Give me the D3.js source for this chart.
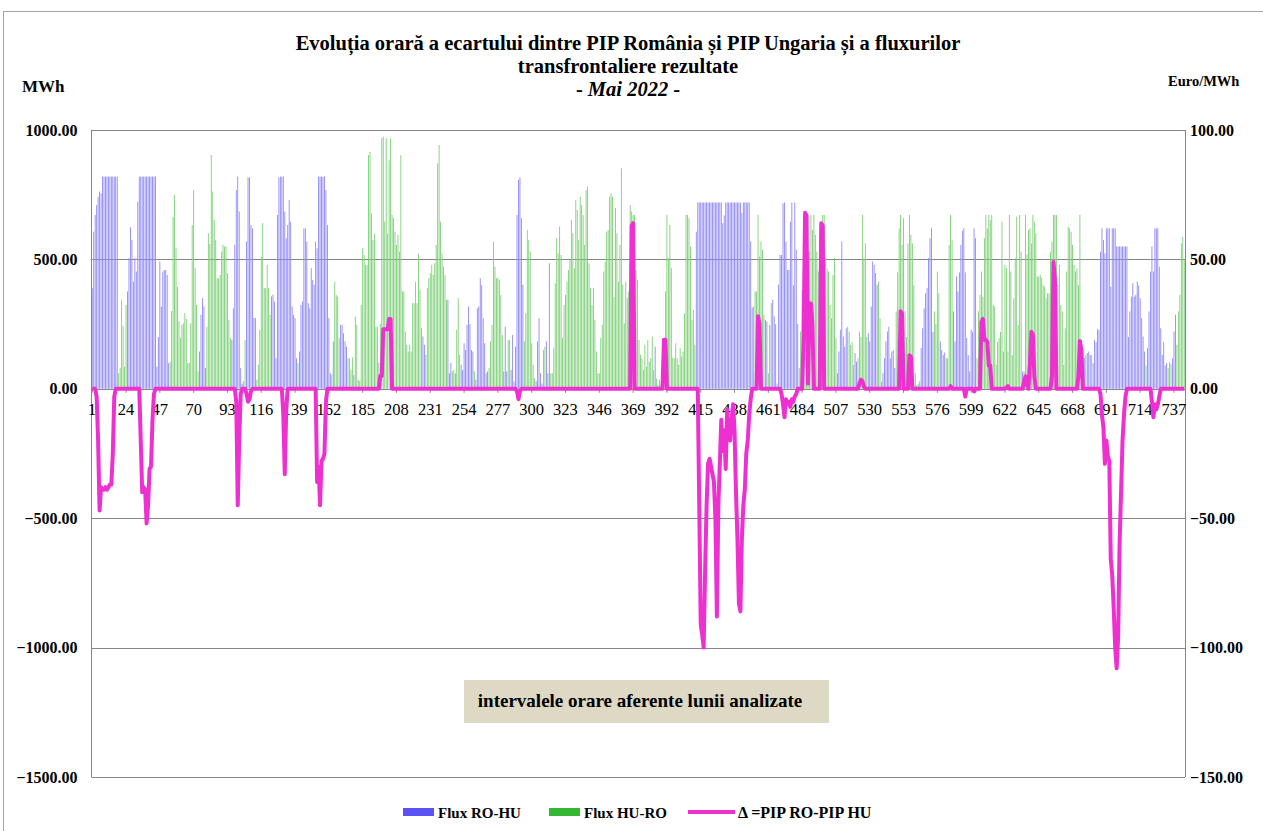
<!DOCTYPE html>
<html>
<head>
<meta charset="utf-8">
<script src="https://cdn.jsdelivr.net/npm/d3@7"></script>
<style>
  body { margin: 0; background: #fff; }
  svg text { font-family: "Liberation Serif", "Times New Roman", serif; }
</style>
</head>
<body>
<div id="chart"></div>
<script>
// hourly values, one line per day (24 h)
const fluxRoHu = [
  389,607,672,710,742,762,755,820,820,820,820,820,820,820,820,820,820,820,0,0,0,0,0,0,
  376,505,624,575,414,505,453,723,820,820,820,820,820,820,820,820,820,820,820,820,86,200,492,318,
  453,459,459,440,99,0,0,0,0,0,0,0,0,0,0,0,0,0,0,0,0,0,0,0,
  0,144,286,350,318,80,0,0,0,0,0,0,0,0,0,0,0,0,0,0,0,0,0,190,
  311,556,768,820,685,80,20,0,0,569,817,817,633,620,273,273,0,0,0,0,0,0,0,0,
  0,0,357,364,337,118,672,817,820,820,820,685,582,633,730,646,318,286,273,118,0,144,324,337,
  620,620,569,331,311,466,421,402,569,543,820,820,820,820,820,768,633,273,60,0,183,0,0,0,
  0,247,247,215,183,163,0,0,0,0,54,0,0,0,0,0,0,0,0,0,0,0,0,0,
  0,0,0,0,0,0,0,0,0,0,0,0,0,0,0,0,0,0,0,0,0,0,0,0,
  0,0,0,0,0,0,0,0,0,202,170,0,0,0,0,0,0,0,0,0,0,0,0,0,
  0,0,344,60,100,0,0,60,0,0,0,93,73,176,150,247,318,250,150,144,0,35,311,318,
  427,400,273,176,60,67,0,0,0,0,0,0,0,0,0,0,67,240,67,0,0,73,208,28,
  163,672,807,817,659,402,0,0,0,0,0,0,0,0,30,183,273,60,20,0,0,183,60,485,
  0,0,0,0,0,0,0,0,0,0,0,0,0,0,0,0,0,0,0,0,0,0,0,0,
  0,0,0,0,0,0,0,0,0,0,0,0,0,0,0,0,0,0,0,0,0,0,0,0,
  0,0,0,0,0,0,0,0,0,0,0,0,0,0,0,0,0,0,0,0,0,0,0,163,
  0,0,0,0,0,0,0,0,0,0,0,0,0,0,0,0,0,0,0,0,0,0,0,0,
  0,0,0,607,720,720,720,720,720,720,720,720,720,720,720,720,720,720,720,720,720,640,670,720,
  720,720,720,720,720,720,720,720,720,720,680,720,720,720,720,720,569,314,0,0,0,0,0,0,
  0,0,266,260,0,247,0,344,280,250,0,402,517,517,717,720,569,459,459,646,720,400,720,537,
  250,0,0,0,0,0,0,0,0,0,0,0,0,0,0,0,0,0,0,0,0,0,0,0,
  0,0,0,60,144,228,569,202,163,234,0,0,0,0,0,138,105,0,0,0,0,0,0,0,
  215,183,318,492,479,447,402,0,0,0,60,118,183,221,240,118,144,150,80,0,0,0,0,0,
  0,0,0,0,0,0,0,0,0,0,0,0,157,234,311,369,389,505,582,620,220,0,0,0,
  0,183,150,131,140,0,0,0,0,0,299,183,434,376,450,556,610,620,450,196,130,67,228,220,
  620,582,0,0,0,0,0,0,0,0,0,0,0,0,0,0,0,0,0,0,0,0,0,0,
  0,0,0,0,0,0,0,0,0,67,0,0,0,0,0,0,0,0,0,0,0,0,0,0,
  0,0,0,0,0,0,0,0,0,0,0,0,0,0,0,0,0,0,0,0,0,0,0,0,
  0,0,0,120,0,138,144,130,0,99,189,180,230,228,530,620,575,523,620,620,620,395,620,620,
  620,550,550,550,550,550,550,550,550,200,299,356,408,356,363,414,400,350,273,202,144,0,157,299,
  453,550,453,620,620,620,472,234,131,180,90,99,0,0,0,118,221,286,0,0,0,0,0,0
];

const fluxHuRo = [
  0,0,0,0,0,0,0,0,0,0,0,0,0,0,0,0,0,0,60,80,344,243,86,324,
  0,0,0,0,0,0,0,0,0,0,0,0,0,0,0,0,0,0,0,0,0,0,0,0,
  0,0,0,0,0,105,300,665,749,543,395,260,196,247,253,292,270,100,100,253,633,768,466,324,
  67,0,0,0,0,0,240,601,560,903,762,652,575,427,427,440,530,556,550,550,447,266,196,0,
  0,0,0,0,0,0,0,30,189,0,0,0,0,0,0,0,35,93,228,511,640,389,389,479,
  389,286,0,0,0,0,0,0,0,0,0,0,0,0,0,0,0,0,0,0,99,0,0,0,
  0,0,0,0,0,0,0,0,0,0,0,0,0,0,0,0,0,0,0,54,0,414,363,356,
  196,0,0,0,0,0,118,118,73,122,0,279,247,35,30,324,543,517,479,479,903,916,678,575,
  600,240,240,100,250,968,974,646,968,600,883,968,672,659,607,556,595,530,903,376,376,221,170,144,
  170,144,331,331,414,331,523,382,234,0,0,131,389,427,447,479,440,485,556,871,942,646,523,472,
  440,344,0,0,0,67,73,0,228,350,131,0,0,0,0,0,0,0,0,0,67,0,0,0,
  0,0,0,0,0,0,80,183,247,569,472,427,430,421,363,208,0,0,0,189,189,0,0,0,
  0,0,0,0,0,0,183,292,614,575,530,176,93,41,0,0,0,0,0,150,163,0,0,0,
  60,60,157,408,582,523,627,517,196,324,363,414,459,498,652,601,466,730,691,575,742,710,672,556,
  768,781,485,389,324,389,266,144,60,60,196,247,453,492,607,614,742,755,742,356,698,601,414,556,
  852,402,253,414,350,376,710,685,672,672,459,421,189,131,118,73,170,86,189,105,118,202,73,0,
  40,15,35,20,40,180,376,672,505,633,466,120,118,176,118,93,157,125,144,292,672,672,659,550,
  266,305,170,0,0,0,0,0,0,0,0,0,0,0,0,0,0,0,0,0,0,0,0,0,
  0,0,0,0,0,0,0,0,0,0,0,0,0,0,0,0,0,0,318,376,376,672,511,569,
  537,286,0,0,60,0,331,0,0,0,20,0,0,0,0,0,0,0,0,0,0,0,0,0,
  0,80,221,382,440,562,678,505,530,672,614,672,595,530,453,363,447,672,672,505,466,453,324,273,
  440,505,196,0,0,0,0,0,0,0,240,221,170,180,93,0,0,118,221,200,672,505,562,200,
  0,0,0,0,0,0,0,414,273,28,0,0,0,0,0,0,0,0,0,299,450,620,672,556,
  659,300,200,562,672,595,562,400,60,15,20,30,0,0,0,0,0,0,0,0,0,299,250,453,
  369,0,0,0,0,118,118,556,672,575,0,0,0,0,0,0,0,0,0,0,0,0,0,0,
  0,0,118,299,363,453,356,582,672,620,672,652,672,324,318,93,180,196,220,646,144,479,466,144,
  672,453,130,350,505,665,246,672,530,0,67,672,520,614,620,562,672,646,601,434,434,440,430,402,
  395,350,369,369,530,569,672,672,672,402,479,324,299,93,234,453,627,620,607,556,479,453,466,400,
  672,93,144,0,130,0,0,0,131,0,0,0,0,0,0,0,0,0,0,0,0,0,0,0,
  0,0,0,0,0,0,0,0,0,0,0,0,0,0,0,0,0,0,0,0,0,90,0,0,
  0,0,0,0,0,0,0,0,0,0,0,0,80,103,95,0,0,0,170,299,363,562,588,498
];

// Δ = PIP RO - PIP HU, Euro/MWh
const deltaPip = [
  0,0,0,-3,-20,-47,-38,-39,-39,-38,-39,-38,-37,-37,-25,-3,0,0,0,0,0,0,0,0,
  0,0,0,0,0,0,0,0,0,-20,-40,-38,-39,-52,-45,-31,-30,-12,-2,0,0,0,0,0,
  0,0,0,0,0,0,0,0,0,0,0,0,0,0,0,0,0,0,0,0,0,0,0,0,
  0,0,0,0,0,0,0,0,0,0,0,0,0,0,0,0,0,0,0,0,0,0,0,0,
  0,0,-5,-45,-20,-2,0,0,0,-2,-5,-4,-1,0,0,0,0,0,0,0,0,0,0,0,
  0,0,0,0,0,0,0,0,0,0,-10,-33,-8,0,0,0,0,0,0,0,0,0,0,0,
  0,0,0,0,0,0,0,0,0,-36,-30,-45,-28,-27,-25,-5,0,0,0,0,0,0,0,0,
  0,0,0,0,0,0,0,0,0,0,0,0,0,0,0,0,0,0,0,0,0,0,0,0,
  0,0,0,0,5,5,23,23,23,23,27,27,0,0,0,0,0,0,0,0,0,0,0,0,
  0,0,0,0,0,0,0,0,0,0,0,0,0,0,0,0,0,0,0,0,0,0,0,0,
  0,0,0,0,0,0,0,0,0,0,0,0,0,0,0,0,0,0,0,0,0,0,0,0,
  0,0,0,0,0,0,0,0,0,0,0,0,0,0,0,0,0,0,0,0,0,0,0,0,
  0,-1,-4,-1,0,0,0,0,0,0,0,0,0,0,0,0,0,0,0,0,0,0,0,0,
  0,0,0,0,0,0,0,0,0,0,0,0,0,0,0,0,0,0,0,0,0,0,0,0,
  0,0,0,0,0,0,0,0,0,0,0,0,0,0,0,0,0,0,0,0,0,0,0,0,
  0,0,0,0,0,0,0,63,64,0,0,0,0,0,0,0,0,0,0,0,0,0,0,0,
  0,0,0,0,0,19,19,0,0,0,0,0,0,0,0,0,0,0,0,0,0,0,0,0,
  0,0,0,0,0,-45,-91,-95,-100,-70,-45,-29,-27,-30,-33,-36,-50,-88,-45,-29,-12,-24,-16,-31,
  -8,-18,-20,-12,-6,-16,-40,-58,-83,-86,-58,-45,-39,-25,-20,-10,-4,0,0,0,0,28,25,0,
  0,0,0,0,0,0,0,0,0,0,0,0,0,-2,-6,-11,-4,-6,-5,-7,-4,-5,-3,-2,
  0,0,0,0,20,68,67,2,33,33,25,0,0,0,0,0,64,63,0,0,0,0,0,0,
  0,0,0,0,0,0,0,0,0,0,0,0,0,0,0,0,0,0,2,3.5,3,1,0,0,
  0,0,0,0,0,0,0,0,0,0,0,0,0,0,0,0,0,0,0,0,0,0,30,29,
  0,0,0,0,13,12.5,0,0,0,0,0,0,0,0,0,0,0,0,0,0,0,0,0,0,
  0,0,0,0,0,0,0,0,1,0,0,0,0,0,0,0,0,0,-3,0,0,0,0,0,
  -1,0,0,0,0,26,27,19,19,18,9,9,0,0,0,0,0,0,0,0,0,0,0.5,1,
  0,0,0,0,0,0,0,0,0,0,3,4.8,2,0,10,22,21,5,0,0,0,0,0,0,
  0,0,0,0,0,5,49,42,0,0,0,0,0,0,0,0,0,0,0,0,0,0,0,5,
  18.5,15,0,0,0,0,0,0,0,0,0,0,0,0,-2,-10,-15,-29,-20,-26,-28,-66,-72,-85,
  -100,-108,-96,-60,-40,-20,-10,-3,0,0,0,0,0,0,0,0,0,0,0,0,0,0,0,0,
  0,-5,-11,-6,-8,-6,-3,0,0,0,0,0,0,0,0,0,0,0,0,0,0,0,0,0
];

const hours = d3.range(1, fluxRoHu.length + 1);
const xTickLabels = [1,24,47,70,93,116,139,162,185,208,231,254,277,300,323,346,369,392,415,438,461,484,507,530,553,576,599,622,645,668,691,714,737];
const yLeftTicks = [1000, 500, 0, -500, -1000, -1500];
const yRightTicks = [100, 50, 0, -50, -100, -150];

const width = 1263;
const height = 831;
const plot = { left: 91.5, right: 1185, top: 130, bottom: 777 };

const colBlue = "#5b52f3";
const colGreen = "#34b834";
const barBlue = "#8e87f6";
const barGreen = "#7ccf76";
const colLine = "#ee30d0";

const svg = d3.select("#chart")
  .append("svg")
  .attr("width", width)
  .attr("height", height);

// outer frame
svg.append("rect")
  .attr("x", 3.5).attr("y", 11.5)
  .attr("width", 1300).attr("height", 900)
  .attr("fill", "none")
  .attr("stroke", "#a6a6a6");

const x = d3.scaleBand()
  .domain(hours)
  .range([plot.left, plot.right]);
const bw = x.bandwidth();

const yL = d3.scaleLinear().domain([-1500, 1000]).range([plot.bottom, plot.top]);
const yR = d3.scaleLinear().domain([-150, 100]).range([plot.bottom, plot.top]);

// gridlines
svg.append("g")
  .selectAll("line")
  .data(yLeftTicks)
  .enter()
  .append("line")
  .attr("x1", plot.left).attr("x2", plot.right)
  .attr("y1", d => Math.round(yL(d)) + 0.5)
  .attr("y2", d => Math.round(yL(d)) + 0.5)
  .attr("stroke", "#868686")
  .attr("stroke-width", 1);

// side axis lines
svg.append("line")
  .attr("x1", plot.left).attr("x2", plot.left)
  .attr("y1", plot.top).attr("y2", plot.bottom)
  .attr("stroke", "#868686");
svg.append("line")
  .attr("x1", plot.right + 0.5).attr("x2", plot.right + 0.5)
  .attr("y1", plot.top).attr("y2", plot.bottom)
  .attr("stroke", "#868686");

// bars
const barW = bw * 0.6;
svg.append("g")
  .attr("fill", barBlue)
  .selectAll("rect")
  .data(hours.filter((h, i) => fluxRoHu[i] > 0))
  .enter()
  .append("rect")
  .attr("x", h => x(h) + (bw - barW) / 2)
  .attr("width", barW)
  .attr("y", h => yL(fluxRoHu[h - 1]))
  .attr("height", h => yL(0) - yL(fluxRoHu[h - 1]));

svg.append("g")
  .attr("fill", barGreen)
  .selectAll("rect")
  .data(hours.filter((h, i) => fluxHuRo[i] > 0))
  .enter()
  .append("rect")
  .attr("x", h => x(h) + (bw - barW) / 2)
  .attr("width", barW)
  .attr("y", h => yL(fluxHuRo[h - 1]))
  .attr("height", h => yL(0) - yL(fluxHuRo[h - 1]));

// axes
const fmt = d3.format(".2f");
const axL = svg.append("g")
  .attr("transform", `translate(${plot.left},0)`)
  .call(d3.axisLeft(yL).tickValues(yLeftTicks).tickFormat(fmt).tickSize(0).tickPadding(14));
const axR = svg.append("g")
  .attr("transform", `translate(${plot.right},0)`)
  .call(d3.axisRight(yR).tickValues(yRightTicks).tickFormat(fmt).tickSize(0).tickPadding(5));
[axL, axR].forEach(a => {
  a.select(".domain").remove();
  a.selectAll("text")
    .attr("font-family", "Liberation Serif, Times New Roman, serif")
    .attr("font-size", 16)
    .attr("font-weight", "bold")
    .attr("fill", "#000");
});

const axX = svg.append("g")
  .attr("transform", `translate(0,${yL(0)})`)
  .call(d3.axisBottom(x).tickValues(xTickLabels).tickSize(4).tickPadding(10));
axX.select(".domain").remove();
axX.selectAll("line").attr("stroke", "#868686");
axX.selectAll("text")
  .attr("font-family", "Liberation Serif, Times New Roman, serif")
  .attr("font-size", 16.5)
  .attr("fill", "#000");

// delta line
const deltaLine = d3.line()
  .x(h => x(h) + bw / 2)
  .y(h => yR(deltaPip[h - 1]));
svg.append("path")
  .datum(hours)
  .attr("fill", "none")
  .attr("stroke", colLine)
  .attr("stroke-width", 4)
  .attr("stroke-linejoin", "round")
  .attr("d", deltaLine);

// title
const title = svg.append("g")
  .attr("font-weight", "bold")
  .attr("font-size", 20.5)
  .attr("text-anchor", "middle");
title.append("text").attr("x", 628).attr("y", 50)
  .text("Evoluția orară a ecartului dintre PIP România și PIP Ungaria și a fluxurilor");
title.append("text").attr("x", 628).attr("y", 73)
  .text("transfrontaliere rezultate");
const t3 = title.append("text").attr("x", 628).attr("y", 96);
t3.append("tspan").text("- ");
t3.append("tspan").attr("font-style", "italic").text("Mai 2022");
t3.append("tspan").text(" -");

svg.append("text").attr("x", 22).attr("y", 92)
  .attr("font-weight", "bold").attr("font-size", 17).text("MWh");
svg.append("text").attr("x", 1168).attr("y", 86)
  .attr("font-weight", "bold").attr("font-size", 14.5).text("Euro/MWh");

// annotation box
svg.append("rect")
  .attr("x", 464).attr("y", 680)
  .attr("width", 365).attr("height", 43)
  .attr("fill", "#ddd9c4");
svg.append("text")
  .attr("x", 640).attr("y", 707)
  .attr("text-anchor", "middle")
  .attr("font-weight", "bold").attr("font-size", 19)
  .text("intervalele orare aferente lunii analizate");

// legend
const legend = svg.append("g").attr("font-weight", "bold").attr("font-size", 15);
legend.append("rect").attr("x", 403).attr("y", 808).attr("width", 31).attr("height", 8).attr("fill", colBlue);
legend.append("text").attr("x", 438).attr("y", 818).text("Flux RO-HU");
legend.append("rect").attr("x", 549).attr("y", 808).attr("width", 31).attr("height", 8).attr("fill", colGreen);
legend.append("text").attr("x", 584).attr("y", 818).text("Flux HU-RO");
legend.append("line").attr("x1", 688).attr("x2", 735).attr("y1", 812).attr("y2", 812)
  .attr("stroke", colLine).attr("stroke-width", 4);
legend.append("text").attr("x", 738).attr("y", 818).attr("font-size", 16).text("Δ =PIP RO-PIP HU");
</script>
</body>
</html>
